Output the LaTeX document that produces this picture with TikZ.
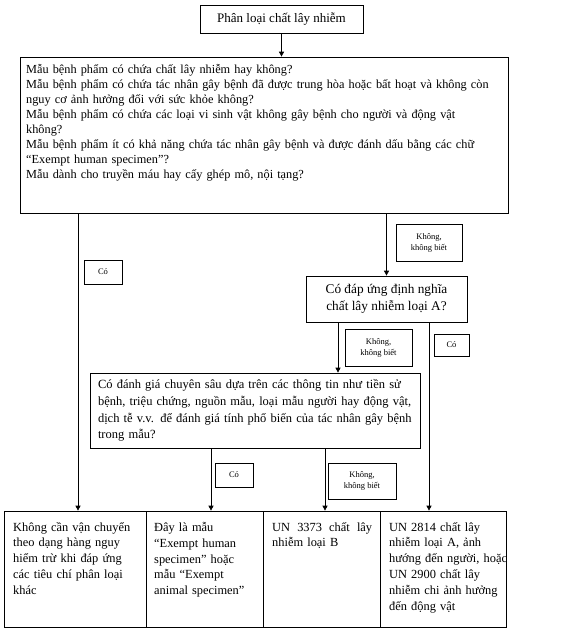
\documentclass[tikz,border=0pt]{standalone}
\usepackage{fontspec}
\setmainfont{Liberation Serif}
\usetikzlibrary{arrows.meta}

\newcommand{\fullln}[1]{\makebox[\hsize][s]{#1}}

\begin{document}
\begin{tikzpicture}[
  x=1pt, y=-1pt,
  box/.style     = {rectangle, draw, line width=0.7pt, inner sep=0pt},
  qtext/.style   = {inner sep=0pt, align=left, text width=#1,
                    font=\fontsize{12.3}{15}\selectfont},
  restext/.style = {inner sep=0pt, align=left, text width=#1,
                    font=\fontsize{12.4}{15.8}\selectfont, anchor=north west},
  tag/.style     = {rectangle, draw, line width=0.6pt, inner sep=1pt,
                    align=center, font=\fontsize{8.5}{11}\selectfont},
  flow/.style    = {-{Triangle[length=5pt,width=5pt]}, line width=0.7pt},
]
\useasboundingbox (0,0) rectangle (575,637);
% title and first question block
\node[box, minimum width=163, minimum height=28,
      font=\fontsize{13}{15}\selectfont] (title) at (281.5,19) {Phân loại chất lây nhiễm};
\node[box, minimum width=488, minimum height=156] (quest) at (264,135) {};
\node[qtext=470, anchor=north west] (questtxt) at (26,64)
  {Mẫu bệnh phẩm có chứa chất lây nhiễm hay không?\\
   Mẫu bệnh phẩm có chứa tác nhân gây bệnh đã được trung hòa hoặc bất hoạt và không còn\\
   nguy cơ ảnh hưởng đối với sức khỏe không?\\
   Mẫu bệnh phẩm có chứa các loại vi sinh vật không gây bệnh cho người và động vật\\
   không?\\
   Mẫu bệnh phẩm ít có khả năng chứa tác nhân gây bệnh và được đánh dấu bằng các chữ\\
   “Exempt human specimen”?\\
   Mẫu dành cho truyền máu hay cấy ghép mô, nội tạng?};
% category A and assessment questions
\node[box, minimum width=161, minimum height=46, align=center,
      font=\fontsize{13.3}{16.5}\selectfont] (qa) at (386.5,299)
  {Có đáp ứng định nghĩa\\chất lây nhiễm loại A?};
\node[box, minimum width=330, minimum height=75, inner xsep=8pt, text width=314,
      align=left, font=\fontsize{12.5}{16.7}\selectfont] (qc) at (255,410.5)
  {\fullln{Có đánh giá chuyên sâu dựa trên các thông tin như tiền sử}\\
   \fullln{bệnh, triệu chứng, nguồn mẫu, loại mẫu người hay động vật,}\\
   \fullln{dịch tễ v.v. để đánh giá tính phổ biến của tác nhân gây bệnh}\\
   trong mẫu?};
% result boxes
\node[box, minimum width=142, minimum height=116] (res1) at (75,569) {};
\node[box, minimum width=117, minimum height=116] (res2) at (204.5,569) {};
\node[box, minimum width=117, minimum height=116] (res3) at (321.5,569) {};
\node[box, minimum width=126, minimum height=116] (res4) at (443,569) {};
\node[restext=128] (restxt1) at (13,522)
  {Không cần vận chuyển\\theo dạng hàng nguy\\hiểm trừ khi đáp ứng\\các tiêu chí phân loại\\khác};
\node[restext=105] (restxt2) at (154,522)
  {Đây là mẫu\\“Exempt human\\specimen” hoặc\\mẫu “Exempt\\animal specimen”};
\node[restext=100] (restxt3) at (272,522)
  {UN\hfill 3373\hfill chất\hfill lây\\nhiễm loại B};
\node[restext=122] (restxt4) at (389,522)
  {UN 2814 chất lây\\nhiễm loại A, ảnh\\hướng đến người, hoặc\\UN 2900 chất lây\\nhiễm chi ảnh hưởng\\đến động vật};
% answer tags
\node[tag, minimum width=38, minimum height=24] (tagyes1) at (103,272) {Có};
\node[tag, minimum width=66, minimum height=37] (tagno1) at (429,242.5) {Không,\\không biết};
\node[tag, minimum width=67, minimum height=37] (tagno2) at (378.5,347.5) {Không,\\không biết};
\node[tag, minimum width=35, minimum height=22] (tagyes2) at (451.5,345) {Có};
\node[tag, minimum width=38, minimum height=24] (tagyes3) at (234,475) {Có};
\node[tag, minimum width=68, minimum height=36] (tagno3) at (362,481) {Không,\\không biết};
% columns of the connectors
\coordinate (col1) at (78,0);
\coordinate (col2) at (211,0);
\coordinate (col3) at (325,0);
\coordinate (col4) at (429,0);
\coordinate (colA) at (338,0);
\draw[flow] (title.south) -- (title.south |- quest.north);
\draw[flow] (quest.south -| col1) -- (res1.north -| col1);
\draw[flow] (quest.south -| qa) -- (qa.north);
\draw[flow] (qa.south -| colA) -- (qc.north -| colA);
\draw[flow] (qa.south -| col4) -- (res4.north -| col4);
\draw[flow] (qc.south -| col2) -- (res2.north -| col2);
\draw[flow] (qc.south -| col3) -- (res3.north -| col3);
\end{tikzpicture}
\end{document}
